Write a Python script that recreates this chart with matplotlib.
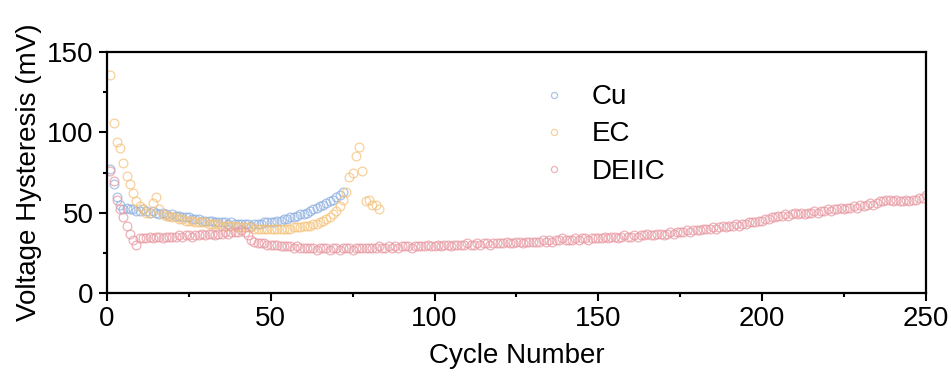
import numpy as np
import matplotlib.pyplot as plt

plt.rcParams['font.family'] = ['Liberation Sans', 'DejaVu Sans']

# voltage hysteresis (mV) per cycle
cu_vals = [77, 68, 60, 55, 52, 53, 52, 52, 51, 51,
           52, 51, 50, 51, 50, 49, 50, 49, 48, 49,
           48, 48, 47, 47, 47, 46, 46, 46, 45, 45,
           45, 45, 44, 44, 44, 44, 43, 44, 43, 43,
           43, 43, 43, 42, 43, 43, 43, 44, 44, 44,
           44, 45, 45, 46, 46, 47, 47, 48, 49, 49,
           50, 51, 52, 53, 54, 55, 56, 57, 58, 60,
           61, 63]

ec_vals = [136, 106, 94, 90, 81, 73, 68, 62, 57, 54,
           52, 50, 50, 56, 60, 52, 49, 48, 48, 47,
           47, 46, 46, 45, 45, 45, 44, 44, 44, 44,
           43, 43, 43, 43, 42, 42, 42, 42, 42, 41,
           41, 41, 41, 41, 40, 40, 40, 40, 40, 40,
           40, 40, 40, 40, 40, 40, 41, 41, 41, 42,
           42, 42, 43, 43, 44, 45, 46, 47, 49, 51,
           54, 58, 63, 72, 75, 85, 91, 76, 57, 58,
           55, 55, 52]

deiic_vals = [76, 70, 58, 52, 47, 42, 37, 33, 30, 34,
              34, 34, 35, 34, 35, 35, 34, 35, 35, 35,
              35, 36, 35, 36, 36, 35, 36, 36, 37, 36,
              37, 37, 36, 37, 37, 38, 37, 38, 38, 38,
              39, 38, 36, 33, 32, 31, 31, 31, 30, 30,
              30, 30, 29, 29, 29, 29, 28, 29, 28, 28,
              28, 28, 28, 27, 28, 28, 28, 27, 28, 28,
              27, 28, 28, 28, 27, 28, 28, 28, 28, 28,
              28, 28, 29, 28, 28, 29, 28, 29, 28, 29,
              29, 29, 28, 29, 29, 29, 29, 30, 29, 29,
              30, 29, 30, 30, 29, 30, 30, 30, 30, 31,
              30, 30, 31, 30, 31, 31, 30, 31, 31, 31,
              31, 32, 31, 31, 32, 32, 31, 32, 32, 32,
              32, 32, 33, 32, 33, 32, 33, 33, 34, 33,
              33, 33, 34, 33, 34, 34, 33, 34, 34, 34,
              34, 35, 34, 35, 35, 34, 35, 36, 35, 35,
              36, 35, 36, 36, 37, 36, 36, 37, 37, 36,
              37, 38, 37, 38, 38, 38, 39, 38, 39, 39,
              39, 40, 40, 40, 41, 40, 41, 42, 41, 42,
              42, 43, 42, 43, 43, 44, 44, 44, 45, 45,
              46, 46, 47, 47, 48, 48, 49, 48, 49, 50,
              49, 50, 49, 50, 50, 51, 50, 51, 51, 52,
              51, 52, 52, 53, 52, 53, 53, 54, 53, 55,
              54, 55, 56, 55, 56, 57, 57, 58, 58, 57,
              58, 57, 57, 58, 57, 58, 58, 59, 59, 61]

labels = ['Cu', 'EC', 'DEIIC']
colors = ['#8fb0e0', '#f5c27a', '#e89aa2']

fig = plt.figure(figsize=(9.51, 3.8), dpi=100)
ax = fig.add_axes([0.1125, 0.229, 0.861, 0.634])

for vals, lab, col in zip([cu_vals, ec_vals, deiic_vals], labels, colors):
    cyc = np.arange(1, len(vals) + 1)
    ax.plot(cyc, vals, 'o', ms=6.3, mfc='none', mec=col, mew=0.9, alpha=0.75,
            label=lab)

ax.set_xlim(0, 250)
ax.set_ylim(0, 150)
ax.set_xticks([0, 50, 100, 150, 200, 250])
ax.set_yticks([0, 50, 100, 150])
ax.set_xticks([25, 75, 125, 175, 225], minor=True)
ax.set_yticks([25, 75, 125], minor=True)
ax.tick_params(which='major', direction='out', length=6, width=1.5, labelsize=20)
ax.tick_params(which='minor', direction='out', length=3, width=1.5)
for sp in ax.spines.values():
    sp.set_linewidth(1.6)

ax.set_xlabel('Cycle Number', fontsize=20, labelpad=8)
ax.set_ylabel('Voltage Hysteresis (mV)', fontsize=20, labelpad=4)

leg = ax.legend(loc='upper left', bbox_to_anchor=(0.49, 0.97), frameon=False,
                fontsize=20, markerscale=0.7, handletextpad=0.6,
                labelspacing=0.4, handlelength=1.5)

fig.savefig('out.png', dpi=100)
